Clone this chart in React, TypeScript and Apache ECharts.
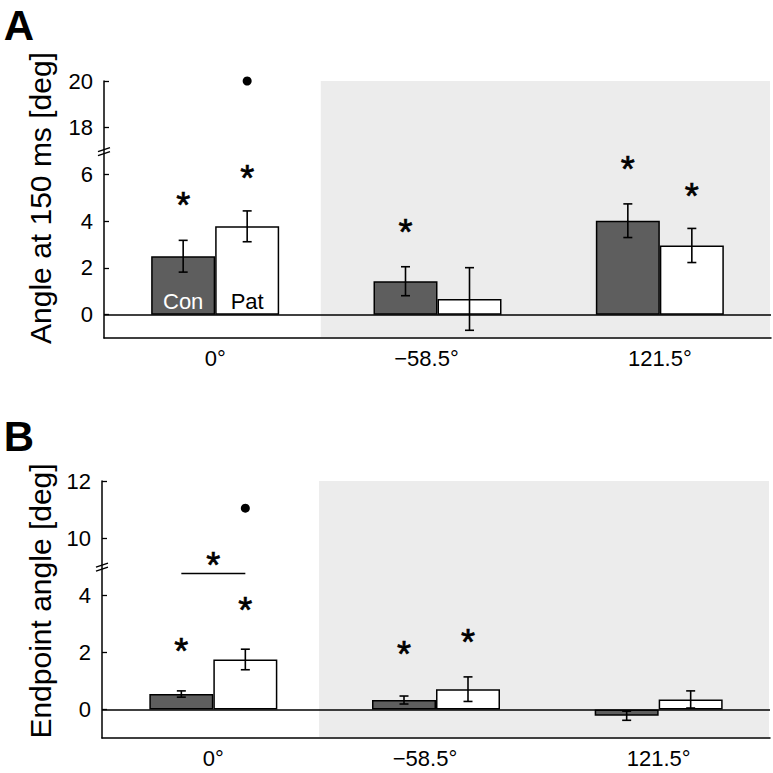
import React, { useEffect, useRef } from 'react';
import * as echarts from 'echarts';

const categories = ['0°', '−58.5°', '121.5°'];
const groups = ['Con', 'Pat'];

// Panel A: Angle at 150 ms [deg]
const aConMean = [2.5, 1.43, 4.02];
const aConErr = [0.68, 0.62, 0.72];
const aPatMean = [3.78, 0.67, 2.96];
const aPatErr = [0.66, 1.34, 0.73];
// [category, group(0=Con,1=Pat), y]
const aStars = [[0, 0, 4.83], [0, 1, 5.98], [1, 0, 3.67], [2, 0, 6.4], [2, 1, 5.22]];
const aOutliers = [[0, 1, 20]];
const aTicks = [0, 2, 4, 6, 18, 20];
const aBreak = [7, 17];
const aRange = [-1, 20];

// Panel B: Endpoint angle [deg]
const bConMean = [0.54, 0.33, -0.22];
const bConErr = [0.11, 0.14, 0.16];
const bPatMean = [1.75, 0.71, 0.35];
const bPatErr = [0.36, 0.43, 0.3];
const bStars = [[0, 0, 2.17], [0, 1, 3.6], [1, 0, 2.05], [1, 1, 2.49]];
const bOutliers = [[0, 1, 11.05]];
// [category, bracket line y, star y]
const bBrackets = [[0, 4.76, 5.18]];
const bTicks = [0, 2, 4, 10, 12];
const bBreak = [5, 9];
const bRange = [-1, 12];

const FONT = 'Liberation Sans, Arial, Helvetica, sans-serif';
const BAR_W = 64;
const DARK = '#5e5e5e';
const GRAY_BG = '#ececec';
const STAR_SIZE = 36;
const STAR_DY = 4;
const STAR_STYLE = {
  text: '*',
  font: `${STAR_SIZE}px ${FONT}`,
  fill: '#000',
  stroke: '#000',
  lineWidth: 0.7,
  align: 'center',
  verticalAlign: 'middle',
};

function makeTf(brk: number[]) {
  const gap = brk[1] - brk[0];
  return {
    to: (v: number) => (v >= brk[1] ? v - gap : v),
    from: (v: number) => (v > brk[0] ? v + gap : v),
  };
}

function buildPanel(idx: number, p: any) {
  const tf = makeTf(p.brk);
  const series: any[] = [];
  // gray background
  series.push({
    type: 'custom',
    xAxisIndex: idx,
    yAxisIndex: idx,
    z: 0,
    silent: true,
    data: [[0, 0]],
    renderItem: (params: any, api: any) => {
      const cs = params.coordSys;
      const c0 = api.coord([0, 0])[0];
      const c1 = api.coord([1, 0])[0];
      const x0 = c0 + (c1 - c0) * 0.475;
      return {
        type: 'rect',
        shape: { x: x0, y: cs.y, width: cs.x + cs.width - x0 - 1, height: cs.height - 1 },
        style: { fill: GRAY_BG },
      };
    },
  });
  const barBase = {
    type: 'bar',
    xAxisIndex: idx,
    yAxisIndex: idx,
    barWidth: BAR_W,
    barGap: '0%',
    z: 3,
  };
  series.push({
    ...barBase,
    name: groups[0],
    data: p.conMean.map(tf.to),
    itemStyle: { color: DARK, borderColor: '#000', borderWidth: 1.5 },
    label: p.labels
      ? {
          show: true,
          position: 'insideBottom',
          distance: 2,
          formatter: (q: any) => (q.dataIndex === 0 ? groups[0] : ''),
          color: '#fff',
          fontSize: 22,
          fontFamily: FONT,
        }
      : { show: false },
    markLine: {
      silent: true,
      symbol: ['none', 'none'],
      label: { show: false },
      lineStyle: { color: '#000', type: 'solid', width: 1.5 },
      data: [{ yAxis: 0 }],
      z: 4,
    },
  });
  series.push({
    ...barBase,
    name: groups[1],
    data: p.patMean.map(tf.to),
    itemStyle: { color: '#fff', borderColor: '#000', borderWidth: 1.5 },
    label: p.labels
      ? {
          show: true,
          position: 'insideBottom',
          distance: 2,
          formatter: (q: any) => (q.dataIndex === 0 ? groups[1] : ''),
          color: '#000',
          fontSize: 22,
          fontFamily: FONT,
        }
      : { show: false },
  });
  // error bars
  const errData: any[] = [];
  p.conMean.forEach((m: number, i: number) => errData.push([i, m, p.conErr[i], -1]));
  p.patMean.forEach((m: number, i: number) => errData.push([i, m, p.patErr[i], 1]));
  series.push({
    type: 'custom',
    xAxisIndex: idx,
    yAxisIndex: idx,
    z: 5,
    silent: true,
    data: errData,
    renderItem: (params: any, api: any) => {
      const cat = api.value(0), m = api.value(1), e = api.value(2), side = api.value(3);
      const x = api.coord([cat, m])[0] + (side * BAR_W) / 2;
      const yt = api.coord([cat, tf.to(m + e)])[1];
      const yb = api.coord([cat, tf.to(m - e)])[1];
      const st = { stroke: '#000', lineWidth: 1.6 };
      return {
        type: 'group',
        children: [
          { type: 'line', shape: { x1: x, y1: yt, x2: x, y2: yb }, style: st },
          { type: 'line', shape: { x1: x - 4.5, y1: yt, x2: x + 4.5, y2: yt }, style: st },
          { type: 'line', shape: { x1: x - 4.5, y1: yb, x2: x + 4.5, y2: yb }, style: st },
        ],
      };
    },
  });
  // stars
  series.push({
    type: 'custom',
    xAxisIndex: idx,
    yAxisIndex: idx,
    z: 6,
    silent: true,
    data: p.stars,
    renderItem: (params: any, api: any) => {
      const cat = api.value(0), g = api.value(1), y = api.value(2);
      const c = api.coord([cat, tf.to(y)]);
      return {
        type: 'text',
        x: c[0] + (g === 0 ? -1 : 1) * (BAR_W / 2),
        y: c[1] + STAR_DY,
        style: STAR_STYLE,
      };
    },
  });
  // outliers
  series.push({
    type: 'custom',
    xAxisIndex: idx,
    yAxisIndex: idx,
    z: 6,
    silent: true,
    data: p.outliers,
    renderItem: (params: any, api: any) => {
      const cat = api.value(0), g = api.value(1), y = api.value(2);
      const c = api.coord([cat, tf.to(y)]);
      return {
        type: 'circle',
        shape: { cx: c[0] + (g === 0 ? -1 : 1) * (BAR_W / 2), cy: c[1], r: 4.5 },
        style: { fill: '#000' },
      };
    },
  });
  if (p.brackets) {
    series.push({
      type: 'custom',
      xAxisIndex: idx,
      yAxisIndex: idx,
      z: 6,
      silent: true,
      data: p.brackets,
      renderItem: (params: any, api: any) => {
        const cat = api.value(0), ly = api.value(1), sy = api.value(2);
        const c = api.coord([cat, tf.to(ly)]);
        const s = api.coord([cat, tf.to(sy)]);
        return {
          type: 'group',
          children: [
            {
              type: 'line',
              shape: { x1: c[0] - BAR_W / 2, y1: c[1], x2: c[0] + BAR_W / 2, y2: c[1] },
              style: { stroke: '#000', lineWidth: 1.5 },
            },
            { type: 'text', x: s[0], y: s[1] + STAR_DY, style: STAR_STYLE },
          ],
        };
      },
    });
  }
  // break marks
  series.push({
    type: 'custom',
    xAxisIndex: idx,
    yAxisIndex: idx,
    z: 7,
    silent: true,
    data: [[0, p.brk[0]]],
    renderItem: (params: any, api: any) => {
      const cs = params.coordSys;
      const y = api.coord([0, api.value(1)])[1];
      const x = cs.x;
      const st = { stroke: '#000', lineWidth: 1.4 };
      return {
        type: 'group',
        children: [
          { type: 'line', shape: { x1: x - 6, y1: y + 0.5, x2: x + 6, y2: y - 3.5 }, style: st },
          { type: 'line', shape: { x1: x - 6, y1: y + 4.5, x2: x + 6, y2: y + 0.5 }, style: st },
        ],
      };
    },
  });

  const xAxis = {
    type: 'category',
    gridIndex: idx,
    data: categories,
    z: 5,
    axisLine: { onZero: false, lineStyle: { color: '#000', width: 1.5 } },
    axisTick: { alignWithLabel: true, inside: true, length: 6, lineStyle: { color: '#000', width: 1.3 } },
    axisLabel: {
      color: '#000',
      fontSize: 22,
      fontFamily: FONT,
      margin: 9,
      formatter: (v: string) => (v.charAt(0) === '−' ? `{s|${v}}` : v),
      rich: { s: { fontSize: 22, fontFamily: FONT, color: '#000', padding: [0, 22, 0, 0] } },
    },
    splitLine: { show: false },
  };
  const tickVals = p.ticks.map(tf.to);
  const yAxis = {
    type: 'value',
    gridIndex: idx,
    min: tf.to(p.range[0]),
    max: tf.to(p.range[1]),
    z: 5,
    axisLine: { show: true, lineStyle: { color: '#000', width: 1.5 } },
    axisTick: { show: true, inside: true, length: 5, customValues: tickVals, lineStyle: { color: '#000', width: 1.3 } },
    axisLabel: {
      color: '#000',
      fontSize: 22,
      fontFamily: FONT,
      margin: 11,
      customValues: tickVals,
      formatter: (v: number) => String(Math.round(tf.from(v))),
    },
    splitLine: { show: false },
  };
  return { series, xAxis, yAxis };
}

export default function App() {
  const ref = useRef<HTMLDivElement>(null);
  useEffect(() => {
    if (!ref.current) return;
    const chart = echarts.init(ref.current, undefined, { renderer: 'svg' });
    const A = buildPanel(0, {
      conMean: aConMean, conErr: aConErr, patMean: aPatMean, patErr: aPatErr,
      stars: aStars, outliers: aOutliers, ticks: aTicks, brk: aBreak, range: aRange, labels: true,
    });
    const B = buildPanel(1, {
      conMean: bConMean, conErr: bConErr, patMean: bPatMean, patErr: bPatErr,
      stars: bStars, outliers: bOutliers, brackets: bBrackets, ticks: bTicks, brk: bBreak, range: bRange, labels: false,
    });
    const txt = (text: string, x: number, y: number, size: number, bold: boolean, rot = 0) => ({
      type: 'text',
      x,
      y,
      rotation: rot,
      style: {
        text,
        font: `${bold ? 'bold ' : ''}${size}px ${FONT}`,
        fill: '#000',
        align: 'center',
        verticalAlign: 'middle',
      },
    });
    chart.setOption({
      animation: false,
      backgroundColor: '#fff',
      grid: [
        { left: 104, top: 81, width: 667, height: 257 },
        { left: 102, top: 481, width: 668, height: 257 },
      ],
      xAxis: [A.xAxis, B.xAxis],
      yAxis: [A.yAxis, B.yAxis],
      series: [...A.series, ...B.series],
      graphic: [
        txt('A', 19, 25, 42, true),
        txt('B', 19, 436, 42, true),
        txt('Angle at 150 ms [deg]', 40, 198, 30, false, Math.PI / 2),
        txt('Endpoint angle [deg]', 40, 601, 30, false, Math.PI / 2),
      ],
    });
    return () => chart.dispose();
  }, []);
  return <div ref={ref} style={{ position: 'absolute', left: 0, top: 0, width: 773, height: 773 }} />;
}
